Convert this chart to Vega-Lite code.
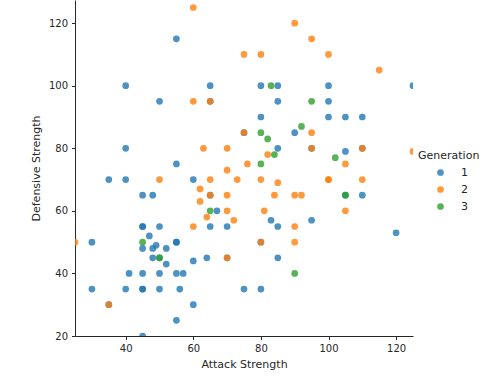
{
  "$schema": "https://vega.github.io/schema/vega-lite/v6.json",
  "width": 338,
  "height": 336,
  "autosize": {"type": "none"},
  "padding": {"left": 75, "top": 0, "right": 88, "bottom": 41},
  "background": "white",
  "config": {
    "view": {"stroke": null},
    "font": "DejaVu Sans",
    "axis": {
      "grid": false,
      "domainColor": "#262626",
      "tickColor": "#262626",
      "tickSize": 3.5,
      "labelColor": "#262626",
      "titleColor": "#262626",
      "labelFontSize": 10,
      "titleFontSize": 11,
      "titleFontWeight": "normal",
      "labelFont": "DejaVu Sans",
      "titleFont": "DejaVu Sans",
      "labelPadding": 4
    },
    "legend": {
      "labelFont": "DejaVu Sans",
      "titleFont": "DejaVu Sans",
      "labelFontSize": 11,
      "titleFontSize": 11,
      "titleFontWeight": "normal",
      "labelColor": "#262626",
      "titleColor": "#262626"
    }
  },
  "datasets": {
    "pts": [
      {"attack": 55, "defense": 115, "gen": "1"},
      {"attack": 40, "defense": 100, "gen": "1"},
      {"attack": 65, "defense": 100, "gen": "1"},
      {"attack": 50, "defense": 95, "gen": "1"},
      {"attack": 65, "defense": 95, "gen": "1"},
      {"attack": 40, "defense": 80, "gen": "1"},
      {"attack": 55, "defense": 75, "gen": "1"},
      {"attack": 80, "defense": 100, "gen": "1"},
      {"attack": 85, "defense": 100, "gen": "1"},
      {"attack": 100, "defense": 100, "gen": "1"},
      {"attack": 125, "defense": 100, "gen": "1"},
      {"attack": 85, "defense": 95, "gen": "1"},
      {"attack": 100, "defense": 95, "gen": "1"},
      {"attack": 80, "defense": 90, "gen": "1"},
      {"attack": 100, "defense": 90, "gen": "1"},
      {"attack": 105, "defense": 90, "gen": "1"},
      {"attack": 110, "defense": 90, "gen": "1"},
      {"attack": 75, "defense": 85, "gen": "1"},
      {"attack": 90, "defense": 85, "gen": "1"},
      {"attack": 85, "defense": 80, "gen": "1"},
      {"attack": 95, "defense": 80, "gen": "1"},
      {"attack": 110, "defense": 80, "gen": "1"},
      {"attack": 105, "defense": 79, "gen": "1"},
      {"attack": 110, "defense": 65, "gen": "1"},
      {"attack": 105, "defense": 65, "gen": "1"},
      {"attack": 83, "defense": 57, "gen": "1"},
      {"attack": 85, "defense": 55, "gen": "1"},
      {"attack": 95, "defense": 57, "gen": "1"},
      {"attack": 120, "defense": 53, "gen": "1"},
      {"attack": 80, "defense": 50, "gen": "1"},
      {"attack": 85, "defense": 45, "gen": "1"},
      {"attack": 70, "defense": 45, "gen": "1"},
      {"attack": 75, "defense": 35, "gen": "1"},
      {"attack": 80, "defense": 35, "gen": "1"},
      {"attack": 35, "defense": 70, "gen": "1"},
      {"attack": 40, "defense": 70, "gen": "1"},
      {"attack": 60, "defense": 70, "gen": "1"},
      {"attack": 45, "defense": 65, "gen": "1"},
      {"attack": 48, "defense": 65, "gen": "1"},
      {"attack": 65, "defense": 65, "gen": "1"},
      {"attack": 67, "defense": 60, "gen": "1"},
      {"attack": 65, "defense": 55, "gen": "1"},
      {"attack": 70, "defense": 55, "gen": "1"},
      {"attack": 45, "defense": 55, "gen": "1"},
      {"attack": 45, "defense": 55, "gen": "1"},
      {"attack": 50, "defense": 55, "gen": "1"},
      {"attack": 47, "defense": 52, "gen": "1"},
      {"attack": 30, "defense": 50, "gen": "1"},
      {"attack": 55, "defense": 50, "gen": "1"},
      {"attack": 55, "defense": 50, "gen": "1"},
      {"attack": 45, "defense": 48, "gen": "1"},
      {"attack": 48, "defense": 48, "gen": "1"},
      {"attack": 49, "defense": 49, "gen": "1"},
      {"attack": 52, "defense": 48, "gen": "1"},
      {"attack": 48, "defense": 45, "gen": "1"},
      {"attack": 50, "defense": 45, "gen": "1"},
      {"attack": 52, "defense": 43, "gen": "1"},
      {"attack": 60, "defense": 44, "gen": "1"},
      {"attack": 64, "defense": 45, "gen": "1"},
      {"attack": 41, "defense": 40, "gen": "1"},
      {"attack": 45, "defense": 40, "gen": "1"},
      {"attack": 50, "defense": 40, "gen": "1"},
      {"attack": 55, "defense": 40, "gen": "1"},
      {"attack": 57, "defense": 40, "gen": "1"},
      {"attack": 30, "defense": 35, "gen": "1"},
      {"attack": 40, "defense": 35, "gen": "1"},
      {"attack": 45, "defense": 35, "gen": "1"},
      {"attack": 45, "defense": 35, "gen": "1"},
      {"attack": 50, "defense": 35, "gen": "1"},
      {"attack": 56, "defense": 35, "gen": "1"},
      {"attack": 35, "defense": 30, "gen": "1"},
      {"attack": 60, "defense": 30, "gen": "1"},
      {"attack": 55, "defense": 25, "gen": "1"},
      {"attack": 45, "defense": 20, "gen": "1"},
      {"attack": 60, "defense": 125, "gen": "2"},
      {"attack": 60, "defense": 95, "gen": "2"},
      {"attack": 65, "defense": 95, "gen": "2"},
      {"attack": 63, "defense": 80, "gen": "2"},
      {"attack": 70, "defense": 80, "gen": "2"},
      {"attack": 70, "defense": 73, "gen": "2"},
      {"attack": 90, "defense": 120, "gen": "2"},
      {"attack": 95, "defense": 115, "gen": "2"},
      {"attack": 75, "defense": 110, "gen": "2"},
      {"attack": 80, "defense": 110, "gen": "2"},
      {"attack": 100, "defense": 110, "gen": "2"},
      {"attack": 115, "defense": 105, "gen": "2"},
      {"attack": 75, "defense": 85, "gen": "2"},
      {"attack": 95, "defense": 85, "gen": "2"},
      {"attack": 95, "defense": 80, "gen": "2"},
      {"attack": 110, "defense": 80, "gen": "2"},
      {"attack": 125, "defense": 79, "gen": "2"},
      {"attack": 82, "defense": 78, "gen": "2"},
      {"attack": 76, "defense": 75, "gen": "2"},
      {"attack": 105, "defense": 75, "gen": "2"},
      {"attack": 73, "defense": 70, "gen": "2"},
      {"attack": 80, "defense": 70, "gen": "2"},
      {"attack": 85, "defense": 69, "gen": "2"},
      {"attack": 100, "defense": 70, "gen": "2"},
      {"attack": 100, "defense": 70, "gen": "2"},
      {"attack": 110, "defense": 70, "gen": "2"},
      {"attack": 84, "defense": 65, "gen": "2"},
      {"attack": 90, "defense": 65, "gen": "2"},
      {"attack": 92, "defense": 65, "gen": "2"},
      {"attack": 81, "defense": 60, "gen": "2"},
      {"attack": 105, "defense": 60, "gen": "2"},
      {"attack": 72, "defense": 57, "gen": "2"},
      {"attack": 90, "defense": 55, "gen": "2"},
      {"attack": 80, "defense": 50, "gen": "2"},
      {"attack": 90, "defense": 50, "gen": "2"},
      {"attack": 70, "defense": 45, "gen": "2"},
      {"attack": 50, "defense": 70, "gen": "2"},
      {"attack": 65, "defense": 70, "gen": "2"},
      {"attack": 62, "defense": 67, "gen": "2"},
      {"attack": 65, "defense": 65, "gen": "2"},
      {"attack": 70, "defense": 65, "gen": "2"},
      {"attack": 62, "defense": 63, "gen": "2"},
      {"attack": 70, "defense": 60, "gen": "2"},
      {"attack": 64, "defense": 58, "gen": "2"},
      {"attack": 60, "defense": 55, "gen": "2"},
      {"attack": 25, "defense": 50, "gen": "2"},
      {"attack": 35, "defense": 30, "gen": "2"},
      {"attack": 83, "defense": 100, "gen": "3"},
      {"attack": 95, "defense": 95, "gen": "3"},
      {"attack": 92, "defense": 87, "gen": "3"},
      {"attack": 80, "defense": 85, "gen": "3"},
      {"attack": 82, "defense": 83, "gen": "3"},
      {"attack": 84, "defense": 78, "gen": "3"},
      {"attack": 102, "defense": 77, "gen": "3"},
      {"attack": 80, "defense": 75, "gen": "3"},
      {"attack": 105, "defense": 65, "gen": "3"},
      {"attack": 90, "defense": 40, "gen": "3"},
      {"attack": 65, "defense": 60, "gen": "3"},
      {"attack": 45, "defense": 50, "gen": "3"},
      {"attack": 50, "defense": 45, "gen": "3"}
    ]
  },
  "data": {"name": "pts"},
  "mark": {"type": "point", "filled": true, "opacity": 0.8, "size": 45, "clip": true},
  "encoding": {
    "x": {
      "field": "attack",
      "type": "quantitative",
      "title": "Attack Strength",
      "scale": {"domain": [25, 125], "nice": false, "zero": false},
      "axis": {"values": [40, 60, 80, 100, 120], "titlePadding": 5}
    },
    "y": {
      "field": "defense",
      "type": "quantitative",
      "title": "Defensive Strength",
      "scale": {"domain": [20, 127.4], "nice": false, "zero": false},
      "axis": {"values": [20, 40, 60, 80, 100, 120], "titlePadding": 7}
    },
    "color": {
      "field": "gen",
      "type": "nominal",
      "title": "Generation",
      "scale": {"domain": ["1", "2", "3"], "range": ["#1f77b4", "#ff7f0e", "#2ca02c"]},
      "legend": {
        "orient": "none",
        "legendX": 343,
        "legendY": 150,
        "symbolOffset": 17,
        "symbolSize": 45,
        "symbolOpacity": 0.8,
        "labelOffset": 15,
        "rowPadding": 5,
        "titlePadding": 6
      }
    }
  }
}
